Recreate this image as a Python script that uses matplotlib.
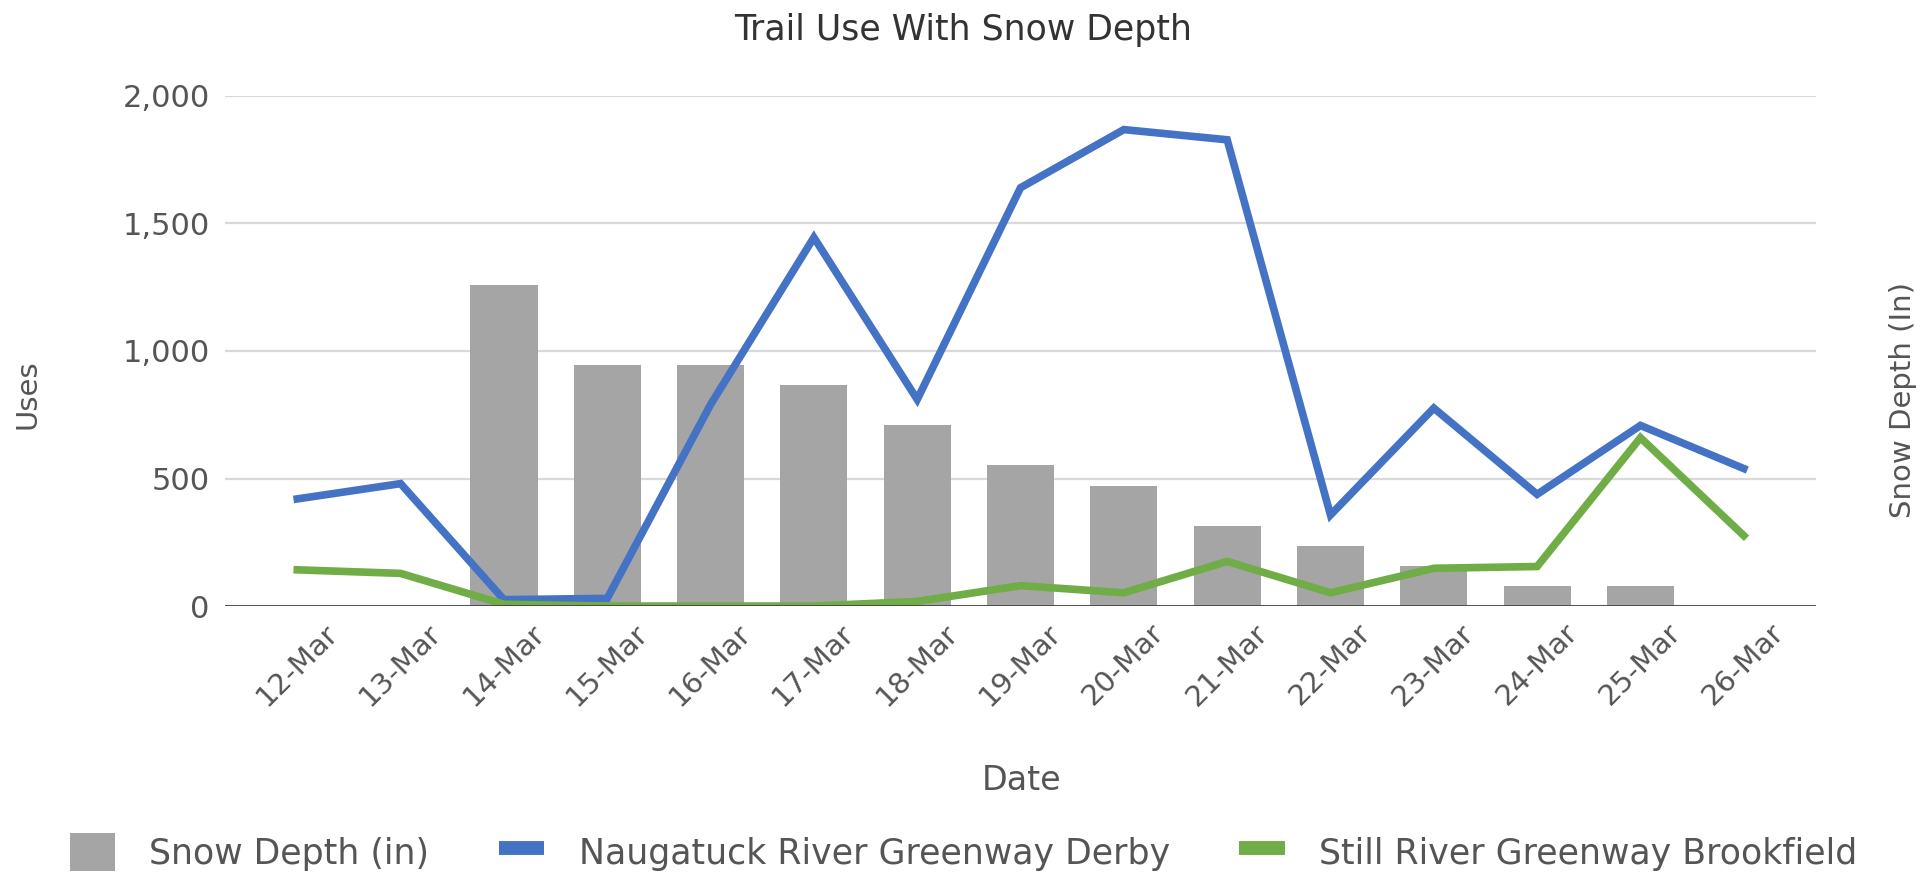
import numpy as np
import matplotlib
matplotlib.use("Agg")
import matplotlib.pyplot as plt
from matplotlib.patches import Patch
from matplotlib.lines import Line2D

plt.rcParams['font.family'] = ['DejaVu Sans']

dates = ['12-Mar', '13-Mar', '14-Mar', '15-Mar', '16-Mar', '17-Mar', '18-Mar', '19-Mar',
         '20-Mar', '21-Mar', '22-Mar', '23-Mar', '24-Mar', '25-Mar', '26-Mar']
snow_depth = [0, 0, 16, 12, 12, 11, 9, 7, 6, 4, 3, 2, 1, 1, 0]
naugatuck = [420, 480, 25, 30, 790, 1445, 810, 1640, 1868, 1828, 357, 776, 438, 708, 539]
still_river = [142, 128, 7, 0, 0, 0, 18, 80, 52, 175, 52, 148, 155, 660, 276]

gray = '#a5a5a5'
blue = '#4472c4'
green = '#70ad47'
txt = '#555555'

fig = plt.figure(figsize=(19.31, 8.72), dpi=100)
ax = fig.add_axes([0.1165, 0.305, 0.824, 0.585])
ax_snow = ax.twinx()
ax.set_zorder(ax_snow.get_zorder() + 1)
ax.patch.set_visible(False)

x = np.arange(len(dates))

# snow depth bars on the secondary axis (no tick labels shown)
snow_max = 25.4
ax_snow.bar(x, snow_depth, width=0.65, color=gray, zorder=2)
ax_snow.set_ylim(0, snow_max)
ax_snow.set_yticks(np.linspace(0, snow_max, 5))
ax_snow.set_yticklabels([])
ax_snow.tick_params(axis='y', length=0)
ax_snow.grid(axis='y', color='#d9d9d9', lw=1.6, zorder=0)
ax_snow.set_axisbelow(True)

ax.plot(x, naugatuck, color=blue, lw=5.5, solid_joinstyle='miter')
ax.plot(x, still_river, color=green, lw=5.5, solid_joinstyle='miter')
ax.axhline(0, color='#444444', lw=2)

ax.set_xlim(-0.7, len(dates) - 0.3)
ax.set_ylim(0, 2000)
ax.set_yticks([0, 500, 1000, 1500, 2000])
ax.set_yticklabels(['0', '500', '1,000', '1,500', '2,000'])
ax.set_xticks(x)
ax.set_xticklabels(dates, rotation=45, ha='center', va='top')
ax.tick_params(axis='y', length=0, pad=11, labelsize=22, labelcolor=txt)
ax.tick_params(axis='x', length=0, pad=9, labelsize=21, labelcolor=txt)

for a in (ax, ax_snow):
    for s in a.spines.values():
        s.set_visible(False)

fig.text(0.499, 0.966, 'Trail Use With Snow Depth', ha='center', va='center',
         fontsize=25, color='#333333')
fig.text(0.014, 0.548, 'Uses', rotation=90, ha='center', va='center',
         fontsize=21, color=txt)
fig.text(0.9855, 0.541, 'Snow Depth (In)', rotation=90, ha='center', va='center',
         fontsize=21, color=txt)
fig.text(0.529, 0.1055, 'Date', ha='center', va='center', fontsize=24, color=txt)

handles = [
    Patch(facecolor=gray, edgecolor='none'),
    Line2D([0], [0], color=blue, lw=10, solid_capstyle='butt'),
    Line2D([0], [0], color=green, lw=10, solid_capstyle='butt'),
]
labels = ['Snow Depth (in)', 'Naugatuck River Greenway Derby', 'Still River Greenway Brookfield']
leg = fig.legend(handles, labels, loc='center', bbox_to_anchor=(0.499, 0.023), ncol=3,
                 frameon=False, fontsize=25, handlelength=1.3, handleheight=1.3,
                 handletextpad=1.0, columnspacing=2.0)
for t in leg.get_texts():
    t.set_color(txt)

fig.savefig('out.png', dpi=100)
